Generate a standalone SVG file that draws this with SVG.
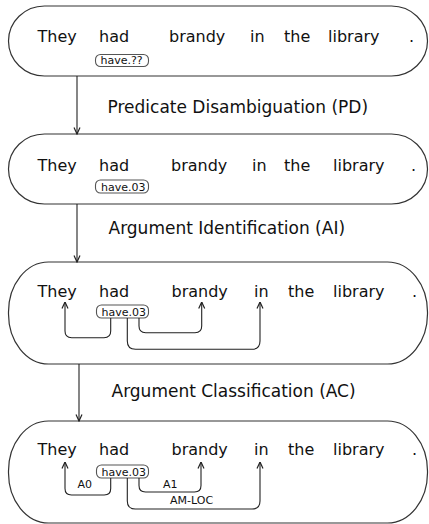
<svg xmlns="http://www.w3.org/2000/svg" width="429" height="524" viewBox="0 0 429 524">
<defs>
<marker id="ah" viewBox="0 0 8 8" refX="7.5" refY="4" markerWidth="8" markerHeight="8" markerUnits="userSpaceOnUse" orient="auto">
<path d="M1,1 L7.5,4 L1,7" fill="none" stroke="#222" stroke-width="1.2"/>
</marker>
<style>
.box{fill:#fff;stroke:#333;stroke-width:1.2}
.w{font-family:"DejaVu Sans",sans-serif;font-size:16px;fill:#111}
.lbl{font-family:"DejaVu Sans",sans-serif;font-size:17px;fill:#111}
.pill{fill:#fff;stroke:#555;stroke-width:1.1}
.pt{font-family:"DejaVu Sans",sans-serif;font-size:11px;fill:#111}
.role{font-family:"DejaVu Sans",sans-serif;font-size:11px;fill:#111}
.c{fill:none;stroke:#222;stroke-width:1.1}
</style>
</defs>

<g id="node-s1">
<rect class="box" x="8.5" y="6" width="419" height="70" rx="36" ry="35"/>
<text class="w" x="37.5" y="42">They</text>
<text class="w" x="99" y="42">had</text>
<text class="w" x="169" y="42">brandy</text>
<text class="w" x="250" y="42">in</text>
<text class="w" x="284" y="42">the</text>
<text class="w" x="328" y="42">library</text>
<text class="w" x="409" y="42">.</text>
<rect class="pill" x="95.5" y="54.5" width="53" height="12" rx="5"/>
<text class="pt" x="100.5" y="64">have.??</text>
</g>

<g id="node-s2">
<rect class="box" x="8.5" y="134" width="419" height="70" rx="36" ry="35"/>
<text class="w" x="37.5" y="171">They</text>
<text class="w" x="99" y="171">had</text>
<text class="w" x="171" y="171">brandy</text>
<text class="w" x="252" y="171">in</text>
<text class="w" x="284" y="171">the</text>
<text class="w" x="333" y="171">library</text>
<text class="w" x="411" y="171">.</text>
<rect class="pill" x="95.5" y="180" width="53" height="13" rx="5"/>
<text class="pt" x="101" y="190.5">have.03</text>
</g>

<g id="node-s3">
<rect class="box" x="8.5" y="262" width="419" height="102" rx="40" ry="50"/>
<text class="w" x="37.5" y="297">They</text>
<text class="w" x="99" y="297">had</text>
<text class="w" x="171.5" y="297">brandy</text>
<text class="w" x="254" y="297">in</text>
<text class="w" x="288" y="297">the</text>
<text class="w" x="333" y="297">library</text>
<text class="w" x="412" y="297">.</text>
<rect class="pill" x="96.5" y="305" width="52" height="13" rx="5"/>
<text class="pt" x="101.5" y="315.5">have.03</text>
</g>

<g id="node-s4">
<rect class="box" x="8.5" y="421" width="419" height="102" rx="40" ry="50"/>
<text class="w" x="37.5" y="455">They</text>
<text class="w" x="99" y="455">had</text>
<text class="w" x="171.5" y="455">brandy</text>
<text class="w" x="254" y="455">in</text>
<text class="w" x="288" y="455">the</text>
<text class="w" x="333" y="455">library</text>
<text class="w" x="412" y="455">.</text>
<rect class="pill" x="96.5" y="465" width="52" height="13" rx="5"/>
<text class="pt" x="101.5" y="475.5">have.03</text>
<text class="role" x="77.5" y="488">A0</text>
<text class="role" x="163" y="488">A1</text>
<text class="role" x="170" y="504">AM-LOC</text>
</g>

<g id="connectors">
<line class="c" x1="77" y1="76" x2="77" y2="134" marker-end="url(#ah)"/>
<line class="c" x1="77" y1="204" x2="77" y2="262" marker-end="url(#ah)"/>
<line class="c" x1="79" y1="364" x2="79" y2="421" marker-end="url(#ah)"/>
<path class="c" d="M110.7,318 V331 Q110.7,337.7 104,337.7 H71.7 Q65,337.7 65,331 V302" marker-end="url(#ah)"/>
<path class="c" d="M139,318 V326 Q139,332.7 145.7,332.7 H195 Q201.7,332.7 201.7,326 V302" marker-end="url(#ah)"/>
<path class="c" d="M127.3,318 V341 Q127.3,349.3 135.6,349.3 H251.7 Q260,349.3 260,341 V302" marker-end="url(#ah)"/>
<path class="c" d="M110.7,478 V488.5 Q110.7,495 104.2,495 H71.5 Q65,495 65,488.5 V462" marker-end="url(#ah)"/>
<path class="c" d="M139,478 V485.5 Q139,492 145.5,492 H194.5 Q201,492 201,485.5 V462" marker-end="url(#ah)"/>
<path class="c" d="M127.3,478 V501 Q127.3,509 135.3,509 H252 Q260,509 260,501 V462" marker-end="url(#ah)"/>
</g>

<g id="labels">
<text class="lbl" x="107.5" y="113">Predicate Disambiguation (PD)</text>
<text class="lbl" x="108.5" y="234">Argument Identification (AI)</text>
<text class="lbl" x="111.5" y="397">Argument Classification (AC)</text>
</g>
</svg>
